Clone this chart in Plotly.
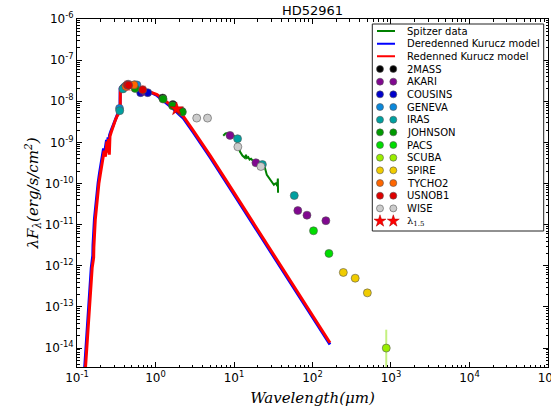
import plotly.graph_objects as go

# ---------------------------------------------------------------------------
# Photometry: wavelength (micron) and lambda*F_lambda (erg/s/cm^2)
# ---------------------------------------------------------------------------
categories = ["2MASS", "AKARI", "COUSINS", "GENEVA", "IRAS", "JOHNSON",
              "PACS", "SCUBA", "SPIRE", "TYCHO2", "USNOB1", "WISE"]
cat_colors = ["#000000", "#80088f", "#0000cc", "#0a88dc", "#00a0a0", "#009a00",
              "#00dd00", "#99ee00", "#f0cc00", "#ff6600", "#dd0000", "#cccccc"]

wl_2mass = [1.235, 1.662, 2.159]
fx_2mass = [1.20e-8, 8.3e-9, 5.7e-9]

wl_akari = [8.9, 19.0, 65.0, 85.0, 148.0]
fx_akari = [1.48e-9, 3.2e-10, 2.2e-11, 1.7e-11, 1.25e-11]

wl_cousins = [0.647, 0.795]
fx_cousins = [1.62e-8, 1.62e-8]

wl_geneva = [0.348, 0.402, 0.423, 0.448, 0.540, 0.550, 0.580]
fx_geneva = [6.7e-9, 2.2e-8, 2.4e-8, 2.6e-8, 2.5e-8, 2.5e-8, 2.5e-8]

wl_iras = [0.350, 0.385, 11.1, 23.0, 58.6]
fx_iras = [5.9e-9, 2.0e-8, 1.23e-9, 2.9e-10, 5.1e-11]

wl_johnson = [0.440, 0.550, 1.25, 1.65, 2.20]
fx_johnson = [2.4e-8, 2.05e-8, 1.13e-8, 7.8e-9, 5.5e-9]

wl_pacs = [103.0, 162.0]
fx_pacs = [7.1e-12, 2.0e-12]

wl_scuba = [870.0]
fx_scuba = [1.0e-14]
err_up_scuba = [1.8e-14]
err_dn_scuba = [0.99e-14]

wl_spire = [247.0, 350.0, 500.0]
fx_spire = [6.9e-13, 5.0e-13, 2.2e-13]

wl_tycho2 = [0.420, 0.532]
fx_tycho2 = [2.3e-8, 2.5e-8]

wl_usnob1 = [0.437, 0.455, 0.687]
fx_usnob1 = [2.5e-8, 2.45e-8, 1.9e-8]

wl_wise = [3.35, 4.6, 11.2, 22.0]
fx_wise = [3.9e-9, 3.9e-9, 7.8e-10, 2.6e-10]

wl_star = [1.86]
fx_star = [6.5e-9]

# Spitzer IRS spectrum
spitzer_wl = [7.3, 7.8, 8.4, 9.0, 9.8, 10.5, 11.0, 11.5, 11.9, 12.8, 13.8, 14.2,
              14.6, 15.2, 15.8, 16.5, 17.6, 19.5, 21.2, 23.0, 24.8, 26.2, 28.0,
              29.0, 31.0, 32.2, 33.5, 34.4, 35.6, 36.2, 36.4]
spitzer_fx = [1.45e-9, 1.66e-9, 1.70e-9, 1.58e-9, 1.51e-9, 1.26e-9, 1.05e-9,
              7.9e-10, 6.0e-10, 4.8e-10, 4.2e-10, 5.0e-10, 4.2e-10, 4.4e-10,
              3.8e-10, 4.0e-10, 3.5e-10, 3.3e-10, 3.2e-10, 2.8e-10, 2.4e-10,
              1.62e-10, 1.38e-10, 1.23e-10, 1.05e-10, 9.3e-11, 1.0e-10, 1.02e-10,
              8.7e-11, 1.32e-10, 6.0e-11]

# Kurucz model, reddened
red_wl = [0.127, 0.138, 0.148, 0.156, 0.163, 0.164, 0.171, 0.180, 0.190, 0.198,
          0.206, 0.214, 0.222, 0.230, 0.236, 0.241, 0.247, 0.252, 0.258, 0.263,
          0.272, 0.280, 0.290, 0.300, 0.310, 0.325, 0.340, 0.355, 0.357, 0.365,
          0.380, 0.420, 0.480, 0.550, 0.630, 0.710, 0.850, 1.045, 1.256, 1.40,
          1.70, 2.00, 2.26, 3.0, 5.0, 10.0, 20.0, 50.0, 100.0, 167.0]
red_fx = [2.5e-15, 2.8e-14, 3.2e-13, 8.9e-13, 1.58e-12, 2.8e-12, 1.32e-11,
          4.1e-11, 1.0e-10, 1.66e-10, 2.8e-10, 3.8e-10, 6.3e-10, 4.5e-10,
          8.3e-10, 1.05e-9, 5.6e-10, 1.2e-9, 5.0e-10, 1.41e-9, 1.74e-9, 2.1e-9,
          2.6e-9, 3.2e-9, 3.6e-9, 4.4e-9, 5.1e-9, 5.8e-9, 2.0e-8, 2.2e-8,
          2.35e-8, 2.5e-8, 2.57e-8, 2.45e-8, 2.2e-8, 1.9e-8, 1.7e-8, 1.45e-8,
          1.12e-8, 9.5e-9, 7.1e-9, 5.2e-9, 4.3e-9, 2.0e-9, 4.7e-10, 6.0e-11,
          7.6e-12, 4.9e-13, 6.3e-14, 1.35e-14]

# Kurucz model, dereddened
blue_wl = [0.124, 0.134, 0.144, 0.152, 0.159, 0.160, 0.167, 0.176, 0.186, 0.194,
           0.202, 0.210, 0.218, 0.226, 0.232, 0.238, 0.244, 0.249, 0.255, 0.260,
           0.270, 0.280, 0.290, 0.300, 0.310, 0.325, 0.340, 0.353, 0.355, 0.365,
           0.380, 0.420, 0.480, 0.550, 0.630, 0.710, 0.850, 1.045, 1.256, 1.40,
           1.70, 2.00, 2.26, 3.0, 5.0, 10.0, 20.0, 50.0, 100.0, 167.0]
blue_fx = [2.5e-15, 2.8e-14, 3.2e-13, 8.9e-13, 1.78e-12, 3.2e-12, 1.41e-11,
           4.5e-11, 1.05e-10, 1.82e-10, 3.0e-10, 4.2e-10, 7.1e-10, 6.0e-10,
           9.5e-10, 1.15e-9, 8.9e-10, 1.32e-9, 1.05e-9, 1.51e-9, 1.86e-9, 2.24e-9,
           2.75e-9, 3.3e-9, 3.8e-9, 4.6e-9, 5.4e-9, 6.0e-9, 2.1e-8, 2.3e-8,
           2.45e-8, 2.6e-8, 2.63e-8, 2.5e-8, 2.2e-8, 1.9e-8, 1.64e-8, 1.38e-8,
           1.04e-8, 8.8e-9, 6.5e-9, 4.8e-9, 3.9e-9, 1.8e-9, 4.25e-10, 5.4e-11,
           6.8e-12, 4.4e-13, 5.65e-14, 1.22e-14]

line_labels = ["Spitzer data", "Deredenned Kurucz model", "Redenned Kurucz model"]
line_colors = ["#008000", "#0000ff", "#ff0000"]
x_tick_exps = [-1, 0, 1, 2, 3, 4, 5]
y_tick_exps = [-14, -13, -12, -11, -10, -9, -8, -7, -6]

phot = {
    "2MASS": (wl_2mass, fx_2mass), "AKARI": (wl_akari, fx_akari),
    "COUSINS": (wl_cousins, fx_cousins), "GENEVA": (wl_geneva, fx_geneva),
    "IRAS": (wl_iras, fx_iras), "JOHNSON": (wl_johnson, fx_johnson),
    "PACS": (wl_pacs, fx_pacs), "SCUBA": (wl_scuba, fx_scuba),
    "SPIRE": (wl_spire, fx_spire), "TYCHO2": (wl_tycho2, fx_tycho2),
    "USNOB1": (wl_usnob1, fx_usnob1), "WISE": (wl_wise, fx_wise),
}

# ---------------------------------------------------------------------------
W, H = 551, 408
ML, MR, MT, MB = 77, 3, 19, 41
PW, PH = W - ML - MR, H - MT - MB

SANS = "DejaVu Sans"
SERIF = "DejaVu Serif"

fig = go.Figure()

# model curves and spectrum
fig.add_trace(go.Scatter(x=blue_wl, y=blue_fx, mode="lines",
                         line=dict(color=line_colors[1], width=3), showlegend=False))
fig.add_trace(go.Scatter(x=red_wl, y=red_fx, mode="lines",
                         line=dict(color=line_colors[2], width=3), showlegend=False))
fig.add_trace(go.Scatter(x=spitzer_wl, y=spitzer_fx, mode="lines",
                         line=dict(color=line_colors[0], width=2), showlegend=False))

# photometry
for name, col in zip(categories, cat_colors):
    wl, fx = phot[name]
    err = None
    if name == "SCUBA":
        err = dict(type="data", symmetric=False, array=err_up_scuba,
                   arrayminus=err_dn_scuba, color="#c4f080", thickness=2, width=0)
    elif name == "USNOB1":
        err = dict(type="percent", value=25, color="rgba(255,60,60,0.35)",
                   thickness=1, width=3)
    fig.add_trace(go.Scatter(
        x=wl, y=fx, mode="markers", error_y=err,
        marker=dict(color=col, size=8, line=dict(color="#555555", width=0.6)),
        showlegend=False))

fig.add_trace(go.Scatter(
    x=wl_star, y=fx_star, mode="markers",
    marker=dict(symbol="star", color="#ff0000", size=10,
                line=dict(color="#aa0000", width=0.5)),
    showlegend=False))

# ---------------------------------------------------------------------------
# legend panel (drawn on a hidden helper axis pair, one row per entry)
box_l, box_r, box_t, box_b = 372.3, 543.7, 24.0, 231.0
row0, row_step = 31.0, 12.67
x_dom = [(box_l - ML) / PW, (box_r - ML) / PW]
y_dom = [(H - MB - box_b) / PH, (H - MB - box_t) / PH]
y_rng = [(box_b - row0) / row_step, (box_t - row0) / row_step]

row = 0
for lab, col in zip(line_labels, line_colors):
    fig.add_trace(go.Scatter(x=[377, 395], y=[row, row], mode="lines",
                             line=dict(color=col, width=2), xaxis="x2", yaxis="y2",
                             showlegend=False, hoverinfo="skip"))
    fig.add_annotation(x=405, y=row, xref="x2", yref="y2", text=lab, showarrow=False,
                       xanchor="left", yanchor="middle",
                       font=dict(family=SANS, size=10, color="black"))
    row += 1
for lab, col in zip(categories, cat_colors):
    fig.add_trace(go.Scatter(x=[380, 393.3], y=[row, row], mode="markers",
                             marker=dict(color=col, size=7,
                                         line=dict(color="#555555", width=0.6)),
                             xaxis="x2", yaxis="y2", showlegend=False, hoverinfo="skip"))
    fig.add_annotation(x=405, y=row, xref="x2", yref="y2", text=lab, showarrow=False,
                       xanchor="left", yanchor="middle",
                       font=dict(family=SANS, size=10, color="black"))
    row += 1
fig.add_trace(go.Scatter(x=[380, 393.3], y=[row, row], mode="markers",
                         marker=dict(symbol="star", color="#ff0000", size=9,
                                     line=dict(color="#aa0000", width=0.5)),
                         xaxis="x2", yaxis="y2", showlegend=False, hoverinfo="skip"))
fig.add_annotation(x=405, y=row, xref="x2", yref="y2",
                   text="λ<sub>1.5</sub>", showarrow=False,
                   xanchor="left", yanchor="middle",
                   font=dict(family=SERIF, size=10, color="black"))

fig.add_shape(type="rect", xref="x2 domain", yref="y2 domain", x0=0, x1=1, y0=0, y1=1,
              line=dict(color="#222222", width=1), fillcolor="rgba(0,0,0,0)",
              layer="above")

# ---------------------------------------------------------------------------
minor_x = [m * 10.0 ** k for k in range(-1, 5) for m in range(2, 10)]
minor_y = [m * 10.0 ** k for k in range(-15, -6) for m in range(2, 10)]

axis_common = dict(showline=True, linecolor="black", linewidth=1, mirror="allticks",
                   ticks="inside", ticklen=5, tickwidth=1, tickcolor="black",
                   showgrid=False, zeroline=False, ticklabeloverflow="allow",
                   automargin=False,
                   tickfont=dict(family=SANS, size=12, color="black"))

fig.update_layout(
    width=W, height=H,
    margin=dict(l=ML, r=MR, t=MT, b=MB, autoexpand=False),
    paper_bgcolor="white", plot_bgcolor="white",
    title=dict(text="HD52961", x=0.5, xref="paper", y=1 - 10 / H,
               yref="container", xanchor="center", yanchor="middle",
               font=dict(family=SANS, size=13, color="black")),
    xaxis=dict(type="log", range=[-1, 5.0001],
               tickvals=[10.0 ** k for k in x_tick_exps],
               ticktext=["10<sup>%d</sup>" % k for k in x_tick_exps],
               minor=dict(ticks="inside", ticklen=2.5, tickcolor="black",
                          tickvals=minor_x, showgrid=False),
               title=dict(text="<i>Wavelength(μm)</i>", standoff=8,
                          font=dict(family=SERIF, size=15, color="black")),
               **axis_common),
    yaxis=dict(type="log", range=[-14.46, -6],
               tickvals=[10.0 ** k for k in y_tick_exps],
               ticktext=["10<sup>%d</sup>" % k for k in y_tick_exps],
               minor=dict(ticks="inside", ticklen=2.5, tickcolor="black",
                          tickvals=minor_y, showgrid=False),
               title=dict(text="<i>λF<sub>λ</sub>(erg/s/cm<sup>2</sup>)</i>", standoff=2,
                          font=dict(family=SERIF, size=15, color="black")),
               **axis_common),
    xaxis2=dict(domain=x_dom, range=[box_l, box_r], anchor="y2", visible=False,
                fixedrange=True),
    yaxis2=dict(domain=y_dom, range=y_rng, anchor="x2", visible=False,
                fixedrange=True),
    showlegend=False,
)

fig.write_html("out.html")
